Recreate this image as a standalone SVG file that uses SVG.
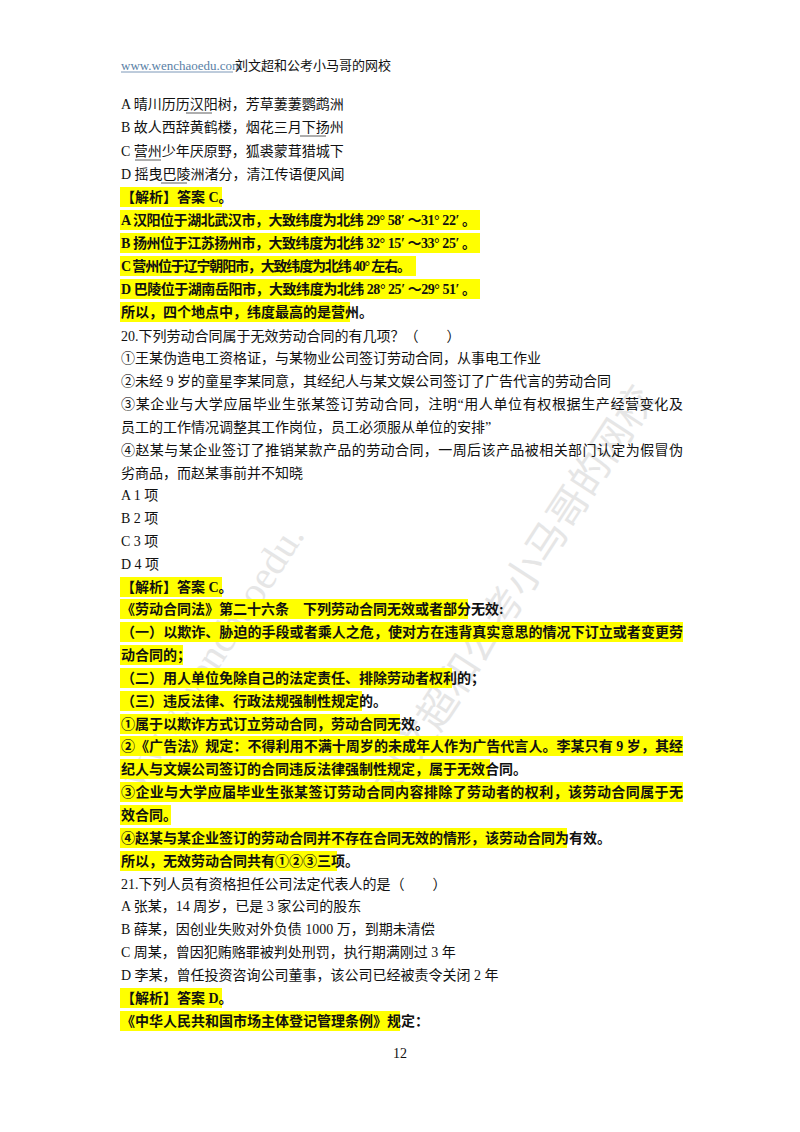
<svg xmlns="http://www.w3.org/2000/svg" width="800" height="1132" viewBox="0 0 800 1132">
<style>
text{font-family:"Liberation Serif","Noto Sans CJK SC",serif;font-size:14px;fill:#111}
.b{font-weight:bold}
.h{fill:#ffff00}
.u{stroke:#333;stroke-width:0.8}
.wm{font-family:"Noto Sans CJK SC",sans-serif;font-size:40px;fill:#e6e6e6}
</style>
<rect width="800" height="1132" fill="#fff"/>
<g id="watermark">
<text class="wm" transform="translate(395,800) rotate(-57)">刘文超和公考小马哥的网校</text>
<text class="wm" transform="translate(140,790) rotate(-57)" style="font-family:'Liberation Serif',serif">www.wenchaoedu.</text>
</g>
<g id="highlights">
<rect class="h" x="120" y="187" width="102" height="20"/>
<rect class="h" x="120" y="210" width="360" height="20"/>
<rect class="h" x="120" y="233" width="360" height="20"/>
<rect class="h" x="120" y="256" width="296" height="20"/>
<rect class="h" x="120" y="279" width="360" height="20"/>
<rect class="h" x="120" y="302" width="230" height="20"/>
<rect class="h" x="120" y="577" width="102" height="20"/>
<rect class="h" x="120" y="599" width="348" height="20"/>
<rect class="h" x="120" y="622" width="563" height="20"/>
<rect class="h" x="120" y="645" width="63" height="20"/>
<rect class="h" x="120" y="668" width="332" height="20"/>
<rect class="h" x="120" y="691" width="242" height="20"/>
<rect class="h" x="120" y="714" width="280" height="20"/>
<rect class="h" x="120" y="736" width="563" height="20"/>
<rect class="h" x="120" y="759" width="370" height="20"/>
<rect class="h" x="120" y="782" width="563" height="20"/>
<rect class="h" x="120" y="805" width="51" height="20"/>
<rect class="h" x="120" y="828" width="447" height="20"/>
<rect class="h" x="120" y="851" width="217" height="20"/>
<rect class="h" x="120" y="988" width="102" height="20"/>
<rect class="h" x="120" y="1011" width="280" height="20"/>
</g>
<g id="header">
<text x="121" y="70" style="fill:#5a7fa6;font-size:13px">www.wenchaoedu.com</text>
<line x1="121" y1="72" x2="233" y2="72" stroke="#5a7fa6" stroke-width="0.8"/>
<text x="235" y="70" style="font-size:13px">刘文超和公考小马哥的网校</text>
</g>
<g id="body">
<text x="121" y="109">A 晴川历历汉阳树，芳草萋萋鹦鹉洲</text>
<text x="121" y="132">B 故人西辞黄鹤楼，烟花三月下扬州</text>
<text x="121" y="156">C 营州少年厌原野，狐裘蒙茸猎城下</text>
<text x="121" y="179">D 摇曳巴陵洲渚分，清江传语便风闻</text>
<line class="u" x1="186" y1="113" x2="212" y2="113"/>
<line class="u" x1="300" y1="136" x2="326" y2="136"/>
<line class="u" x1="135" y1="160" x2="161" y2="160"/>
<line class="u" x1="161" y1="183" x2="187" y2="183"/>
<text class="b" x="121" y="202">【解析】答案 C。</text>
<text class="b" x="121" y="225" textLength="355">A 汉阳位于湖北武汉市，大致纬度为北纬 29° 58′ ～31° 22′ 。</text>
<text class="b" x="121" y="248" textLength="355">B 扬州位于江苏扬州市，大致纬度为北纬 32° 15′ ～33° 25′ 。</text>
<text class="b" x="121" y="271" textLength="290">C 营州位于辽宁朝阳市，大致纬度为北纬 40° 左右。</text>
<text class="b" x="121" y="294" textLength="355">D 巴陵位于湖南岳阳市，大致纬度为北纬 28° 25′ ～29° 51′ 。</text>
<text class="b" x="121" y="317">所以，四个地点中，纬度最高的是营州。</text>
<text x="121" y="341">20.下列劳动合同属于无效劳动合同的有几项？（　　）</text>
<text x="121" y="363">①王某伪造电工资格证，与某物业公司签订劳动合同，从事电工作业</text>
<text x="121" y="386">②未经 9 岁的童星李某同意，其经纪人与某文娱公司签订了广告代言的劳动合同</text>
<text x="121" y="409" textLength="562">③某企业与大学应届毕业生张某签订劳动合同，注明“用人单位有权根据生产经营变化及</text>
<text x="121" y="432">员工的工作情况调整其工作岗位，员工必须服从单位的安排”</text>
<text x="121" y="455" textLength="562">④赵某与某企业签订了推销某款产品的劳动合同，一周后该产品被相关部门认定为假冒伪</text>
<text x="121" y="478">劣商品，而赵某事前并不知晓</text>
<text x="121" y="500">A 1 项</text>
<text x="121" y="523">B 2 项</text>
<text x="121" y="546">C 3 项</text>
<text x="121" y="569">D 4 项</text>
<text class="b" x="121" y="592">【解析】答案 C。</text>
<text class="b" x="121" y="614">《劳动合同法》第二十六条　下列劳动合同无效或者部分无效:</text>
<text class="b" x="121" y="637" textLength="562">（一）以欺诈、胁迫的手段或者乘人之危，使对方在违背真实意思的情况下订立或者变更劳</text>
<text class="b" x="121" y="660">动合同的；</text>
<text class="b" x="121" y="683">（二）用人单位免除自己的法定责任、排除劳动者权利的；</text>
<text class="b" x="121" y="706">（三）违反法律、行政法规强制性规定的。</text>
<text class="b" x="121" y="729">①属于以欺诈方式订立劳动合同，劳动合同无效。</text>
<text class="b" x="121" y="751" textLength="562">②《广告法》规定：不得利用不满十周岁的未成年人作为广告代言人。李某只有 9 岁，其经</text>
<text class="b" x="121" y="774">纪人与文娱公司签订的合同违反法律强制性规定，属于无效合同。</text>
<text class="b" x="121" y="797" textLength="562">③企业与大学应届毕业生张某签订劳动合同内容排除了劳动者的权利，该劳动合同属于无</text>
<text class="b" x="121" y="820">效合同。</text>
<text class="b" x="121" y="843">④赵某与某企业签订的劳动合同并不存在合同无效的情形，该劳动合同为有效。</text>
<text class="b" x="121" y="866">所以，无效劳动合同共有①②③三项。</text>
<text x="121" y="889">21.下列人员有资格担任公司法定代表人的是（　　）</text>
<text x="121" y="911">A 张某，14 周岁，已是 3 家公司的股东</text>
<text x="121" y="934">B 薛某，因创业失败对外负债 1000 万，到期未清偿</text>
<text x="121" y="957">C 周某，曾因犯贿赂罪被判处刑罚，执行期满刚过 3 年</text>
<text x="121" y="980">D 李某，曾任投资咨询公司董事，该公司已经被责令关闭 2 年</text>
<text class="b" x="121" y="1003">【解析】答案 D。</text>
<text class="b" x="121" y="1026">《中华人民共和国市场主体登记管理条例》规定：</text>
<text x="400" y="1058" text-anchor="middle">12</text>
</g>
</svg>
